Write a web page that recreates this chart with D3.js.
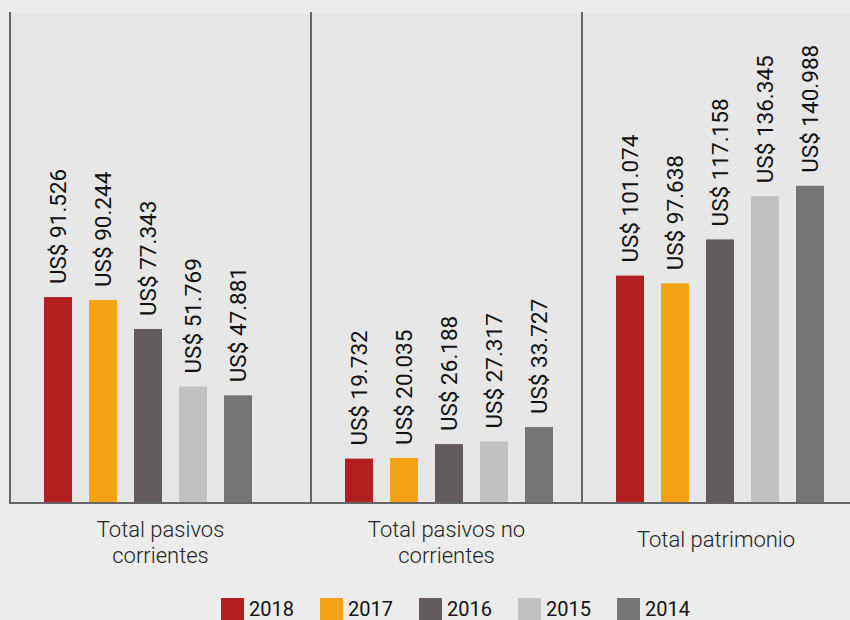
<!DOCTYPE html>
<html>
<head>
<meta charset="utf-8">
<script src="https://cdn.jsdelivr.net/npm/d3@7"></script>
<style>
  body { margin: 0; background: #ececec; }
  svg { display: block; }
</style>
</head>
<body>
<svg id="chart"></svg>
<script>
// data (values in thousands of US$)
const categories = ["Total pasivos corrientes", "Total pasivos no corrientes", "Total patrimonio"];
const categoryLines = [["Total pasivos", "corrientes"], ["Total pasivos no", "corrientes"], ["Total patrimonio"]];
const years = ["2018", "2017", "2016", "2015", "2014"];
const v2018 = [91526, 19732, 101074];
const v2017 = [90244, 20035, 97638];
const v2016 = [77343, 26188, 117158];
const v2015 = [51769, 27317, 136345];
const v2014 = [47881, 33727, 140988];
const yearColors = ["#b11f21", "#f4a317", "#625c5f", "#c1c1c1", "#757575"];

const series = [v2018, v2017, v2016, v2015, v2014];
const rows = [];
categories.forEach((c, ci) => {
  years.forEach((y, yi) => rows.push({cat: c, year: y, value: series[yi][ci]}));
});

let width = 850, height = 620;
let left = 10, right = 850, top_sp = 13, bottom_y = 503;

let svg = d3.select("#chart")
  .attr("width", width)
  .attr("height", height);

let fmt = d3.formatLocale({decimal: ",", thousands: ".", grouping: [3], currency: ["US$ ", ""]}).format(",");

// panel edges
let panelLeft = d3.scaleOrdinal()
  .domain(categories)
  .range([10, 311, 582]);
let panelRight = d3.scaleOrdinal()
  .domain(categories)
  .range([311, 582, 850]);

let xInner = d3.scaleBand()
  .domain(years)
  .range([0, 208])
  .paddingInner(0.378)
  .paddingOuter(0);

let yax = d3.scaleLinear()
  .domain([0, 217800])
  .range([bottom_y, top_sp]);

let color = d3.scaleOrdinal()
  .domain(years)
  .range(yearColors);

// plot background
svg.append("rect")
  .attr("x", left)
  .attr("y", top_sp)
  .attr("width", right - left)
  .attr("height", bottom_y - top_sp)
  .attr("fill", "#e7e7e7");

// bars
svg.append("g")
  .selectAll("rect")
  .data(rows)
  .join("rect")
  .attr("x", d => panelLeft(d.cat) + 34 + xInner(d.year))
  .attr("y", d => yax(d.value))
  .attr("width", xInner.bandwidth())
  .attr("height", d => yax(0) - yax(d.value))
  .attr("fill", d => color(d.year));

// value labels
svg.append("g")
  .selectAll("text")
  .data(rows)
  .join("text")
  .text(d => "US$ " + fmt(d.value))
  .attr("transform", d => `translate(${panelLeft(d.cat) + 34 + xInner(d.year) + xInner.bandwidth()/2 + 8}, ${yax(d.value) - 13}) rotate(-90)`)
  .attr("font-family", "Roboto, sans-serif")
  .attr("font-size", 22.5)
  .attr("fill", "#111");

// panel separators and baseline
svg.append("g")
  .selectAll("line")
  .data(categories)
  .join("line")
  .attr("x1", d => panelLeft(d))
  .attr("x2", d => panelLeft(d))
  .attr("y1", top_sp - 1)
  .attr("y2", bottom_y)
  .attr("stroke", "#666")
  .attr("stroke-width", 2);

svg.append("line")
  .attr("x1", left - 1)
  .attr("x2", right)
  .attr("y1", bottom_y)
  .attr("y2", bottom_y)
  .attr("stroke", "#666")
  .attr("stroke-width", 2);

// category labels
let catText = svg.append("g")
  .selectAll("text")
  .data(categories)
  .join("text")
  .attr("text-anchor", "middle")
  .attr("font-family", "Roboto, sans-serif")
  .attr("font-weight", 300)
  .attr("font-size", 22)
  .attr("fill", "#222")
  .attr("transform", (d, i) => `translate(${(panelLeft(d) + panelRight(d))/2}, ${categoryLines[i].length > 1 ? 537 : 547})`);

catText.selectAll("tspan")
  .data((d, i) => categoryLines[i])
  .join("tspan")
  .attr("x", 0)
  .attr("dy", (d, i) => i === 0 ? 0 : 26)
  .text(d => d);

// legend
let legX = d3.scaleBand()
  .domain(years)
  .range([221, 716]);

let leg = svg.append("g")
  .selectAll("g")
  .data(years)
  .join("g")
  .attr("transform", d => `translate(${legX(d)}, 598)`);

leg.append("rect")
  .attr("width", 23)
  .attr("height", 22)
  .attr("fill", d => color(d));

leg.append("text")
  .text(d => d)
  .attr("x", 28)
  .attr("y", 18)
  .attr("font-family", "Roboto, sans-serif")
  .attr("font-size", 20)
  .attr("fill", "#111");
</script>
</body>
</html>
